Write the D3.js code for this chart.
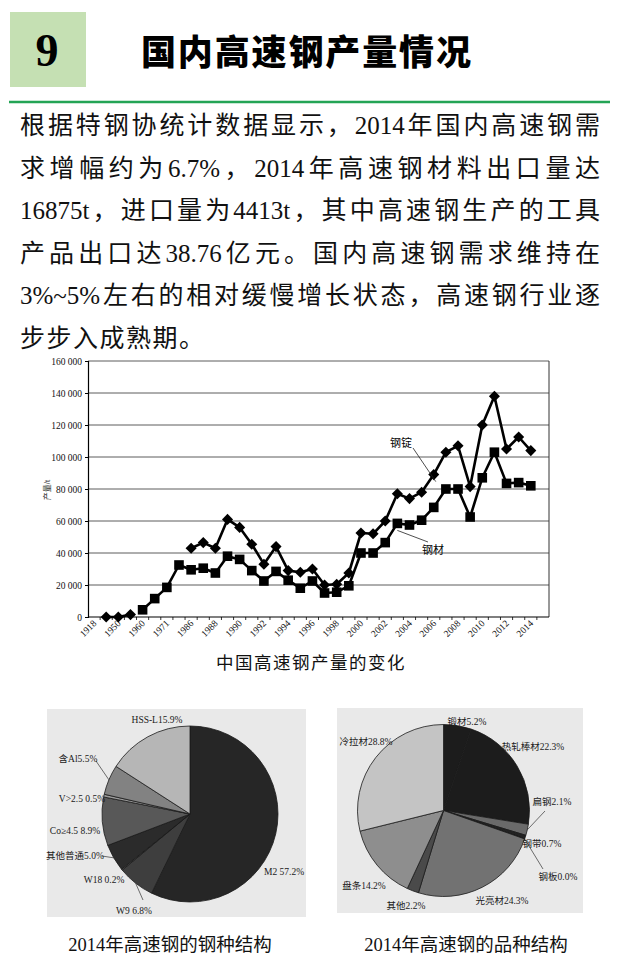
<!DOCTYPE html>
<html>
<head>
<meta charset="utf-8">
<script src="https://cdn.jsdelivr.net/npm/d3@7"></script>
<style>
  body { margin: 0; background: #fff; }
  svg { display: block; }
</style>
</head>
<body>
<div id="chart"></div>
<script>
//
// Data
//
const title = '国内高速钢产量情况'
const bodyLines = [
  '根据特钢协统计数据显示，2014年国内高速钢需',
  '求增幅约为6.7%，2014年高速钢材料出口量达',
  '16875t，进口量为4413t，其中高速钢生产的工具',
  '产品出口达38.76亿元。国内高速钢需求维持在',
  '3%~5%左右的相对缓慢增长状态，高速钢行业逐',
  '步步入成熟期。'
]

// x axis: 38 categories, a label on every second one
const tickLabels = ['1918', '1950', '1960', '1971', '1986', '1988', '1990', '1992', '1994',
  '1996', '1998', '2000', '2002', '2004', '2006', '2008', '2010', '2012', '2014']
const categoryCount = 38

// 钢锭 (ingot), t
const ingot = [null, 0, 0, 1500, null, null, null, null,
  43000, 46500, 43000, 61000, 56000, 45500, 33000, 44000, 29000, 28000, 30000, 20000,
  20500, 27500, 52500, 52000, 60000, 77000, 74000, 78000, 89000, 103000, 107000, 81500,
  120000, 138000, 105000, 112500, 104000]
// 钢材 (steel product), t
const steel = [null, null, null, null, 4500, 11500, 18500, 32500,
  29500, 30500, 27500, 38000, 36000, 29000, 22500, 28500, 23000, 18000, 22500, 15000,
  15500, 19500, 40000, 40000, 46500, 58500, 57500, 60500, 68500, 80000, 80000, 62500,
  87000, 103000, 83500, 84000, 82000]

const yTicks = [0, 20000, 40000, 60000, 80000, 100000, 120000, 140000, 160000]

// 2014年高速钢的钢种结构
const grades = ['M2', 'W9', 'W18', '其他普通', 'Co≥4.5', 'V>2.5', '含Al', 'HSS-L']
const gradeShare = [57.2, 6.8, 0.2, 5.0, 8.9, 0.5, 5.5, 15.9]
// 2014年高速钢的品种结构
const products = ['锻材', '热轧棒材', '扁钢', '钢带', '钢板', '光亮材', '其他', '盘条', '冷拉材']
const productShare = [5.2, 22.3, 2.1, 0.7, 0.0, 24.3, 2.2, 14.2, 28.8]

// styles
const gradeFill = ['#262626', '#3e3e3e', '#555555', '#2b2b2b', '#585858', '#9a9a9a', '#828282', '#b6b6b6']
const productFill = ['#1c1c1c', '#1c1c1c', '#6a6a6a', '#222222', '#222222', '#727272', '#4a4a4a', '#8e8e8e', '#c4c4c4']
// label centres (layout only)
const gradeLabelPos = [[284, 871], [134, 910], [104, 879], [75, 855], [75, 830], [82, 798], [78, 758], [157, 719]]
const gradeLeader = { 6: [96, 761], 3: [102, 856], 1: [143, 900] }
const productLabelPos = [[467, 721], [533, 746], [552, 801], [542, 843], [558, 876], [502, 900], [406, 905], [364, 885], [366, 741]]
const productLeader = { 2: [545, 811], 4: [543, 869] }

const width = 617
const height = 972
const serif = '"Liberation Serif", "Noto Sans CJK SC", serif'
const sans = '"Noto Sans CJK SC", sans-serif'

const svg = d3.select('#chart').append('svg')
  .attr('width', width)
  .attr('height', height)
  .attr('viewBox', [0, 0, width, height])

//
// Header
//
svg.append('rect').attr('x', 10).attr('y', 12).attr('width', 76).attr('height', 75).attr('fill', '#c5e0b3')
svg.append('text').attr('x', 47).attr('y', 66).attr('text-anchor', 'middle')
  .attr('font-family', serif).attr('font-weight', 700).attr('font-size', 46).text('9')
svg.append('text').attr('x', 141).attr('y', 65)
  .attr('font-family', sans).attr('font-weight', 900).attr('font-size', 35)
  .attr('textLength', 330).attr('lengthAdjust', 'spacing').text(title)
svg.append('line').attr('x1', 9).attr('x2', 610).attr('y1', 102).attr('y2', 102)
  .attr('stroke', '#23a455').attr('stroke-width', 2.5)

// Body text: justify by spreading the gaps between CJK characters,
// keeping runs of latin/digits tight like the typeset original.
const bodyG = svg.append('g')
  .attr('font-family', serif)
  .attr('font-size', 25)
  .attr('fill', '#111')
bodyLines.forEach((line, li) => {
  const tokens = line.match(/[A-Za-z0-9.%~]+|[^A-Za-z0-9.%~]/g)
  const t = bodyG.append('text').attr('y', 134 + li * 42.6)
  const spans = tokens.map(tok => t.append('tspan').text(tok))
  const widths = spans.map(s => s.node().getComputedTextLength())
  const total = d3.sum(widths)
  const justify = li < bodyLines.length - 1
  const gap = justify ? (580 - total) / (tokens.length - 1) : 1.5
  let xPos = 20
  spans.forEach((s, i) => {
    s.attr('x', xPos)
    xPos += widths[i] + gap
  })
})

//
// Line chart
//
const plot = { left: 88, right: 549, top: 361, bottom: 617 }
const x = d3.scaleBand().domain(d3.range(categoryCount)).range([plot.left, plot.right])
const cx = i => x(i) + x.bandwidth() / 2
const y = d3.scaleLinear().domain([0, 160000]).range([plot.bottom, plot.top])

const chart = svg.append('g')
chart.append('rect').attr('x', plot.left).attr('y', plot.top)
  .attr('width', plot.right - plot.left).attr('height', plot.bottom - plot.top).attr('fill', '#fff')

chart.append('g').selectAll('line').data(yTicks.slice(1)).join('line')
  .attr('x1', plot.left).attr('x2', plot.right)
  .attr('y1', d => y(d)).attr('y2', d => y(d))
  .attr('stroke', '#4a4a4a').attr('stroke-width', 0.9)
chart.append('line').attr('x1', plot.right).attr('x2', plot.right)
  .attr('y1', plot.top).attr('y2', plot.bottom).attr('stroke', '#333').attr('stroke-width', 1)

const yAxis = chart.append('g')
  .attr('transform', `translate(${plot.left},0)`)
  .call(d3.axisLeft(y).tickValues(yTicks).tickSize(3).tickFormat(d => d3.format(',')(d).replace(/,/g, ' ')))
yAxis.select('.domain').attr('stroke', '#000').attr('stroke-width', 1.2)
yAxis.selectAll('text').attr('font-family', serif).attr('font-size', 9.5).attr('fill', '#111')

// x axis with ticks between categories (Excel style)
chart.append('line').attr('x1', plot.left).attr('x2', plot.right)
  .attr('y1', plot.bottom).attr('y2', plot.bottom).attr('stroke', '#000').attr('stroke-width', 1.2)
chart.append('g').selectAll('line').data(d3.range(1, categoryCount)).join('line')
  .attr('x1', d => x(d)).attr('x2', d => x(d))
  .attr('y1', plot.bottom).attr('y2', plot.bottom + 3)
  .attr('stroke', '#000').attr('stroke-width', 0.8)
chart.append('g').selectAll('text').data(tickLabels).join('text')
  .attr('transform', (d, i) => `translate(${cx(i * 2) + 3},${plot.bottom + 7}) rotate(-45)`)
  .attr('text-anchor', 'end')
  .attr('font-family', serif).attr('font-size', 9.5).attr('fill', '#111')
  .text(d => d)

chart.append('text')
  .attr('transform', `translate(50,490) rotate(-90)`)
  .attr('text-anchor', 'middle')
  .attr('font-family', serif).attr('font-size', 8).attr('fill', '#222')
  .text('产量/t')

const line = d3.line()
  .defined(d => d.v !== null)
  .x(d => cx(d.i))
  .y(d => y(d.v))

const ingotPts = ingot.map((v, i) => ({ i, v }))
const steelPts = steel.map((v, i) => ({ i, v }))

chart.append('path').datum(steelPts).attr('d', line)
  .attr('fill', 'none').attr('stroke', '#000').attr('stroke-width', 2.6).attr('stroke-linejoin', 'round')
chart.append('path').datum(ingotPts).attr('d', line)
  .attr('fill', 'none').attr('stroke', '#000').attr('stroke-width', 2.6).attr('stroke-linejoin', 'round')

chart.append('g').selectAll('rect').data(steelPts.filter(d => d.v !== null)).join('rect')
  .attr('x', d => cx(d.i) - 4.8).attr('y', d => y(d.v) - 4.8)
  .attr('width', 9.6).attr('height', 9.6).attr('fill', '#000')
chart.append('g').selectAll('path').data(ingotPts.filter(d => d.v !== null)).join('path')
  .attr('transform', d => `translate(${cx(d.i)},${y(d.v)})`)
  .attr('d', d3.symbol(d3.symbolDiamond2, 78))
  .attr('fill', '#000')

// series annotations
const ingotAt = 28
const steelAt = 25
chart.append('line')
  .attr('x1', 413).attr('y1', 448)
  .attr('x2', cx(ingotAt) + 2).attr('y2', y(ingot[ingotAt]) + 7)
  .attr('stroke', '#222').attr('stroke-width', 0.8)
chart.append('text').attr('x', 390).attr('y', 447)
  .attr('font-family', serif).attr('font-size', 11).text('钢锭')
chart.append('line')
  .attr('x1', cx(steelAt)).attr('y1', y(steel[steelAt]) + 7)
  .attr('x2', 428).attr('y2', 542)
  .attr('stroke', '#222').attr('stroke-width', 0.8)
chart.append('text').attr('x', 422).attr('y', 554)
  .attr('font-family', serif).attr('font-size', 11).text('钢材')

svg.append('text').attr('x', 311).attr('y', 669).attr('text-anchor', 'middle')
  .attr('font-family', serif).attr('font-size', 17.5).attr('letter-spacing', 1.5).attr('fill', '#111')
  .text('中国高速钢产量的变化')

//
// Pie charts
//
function drawPie (opts) {
  const g = svg.append('g')
  g.append('rect').attr('x', opts.box[0]).attr('y', opts.box[1])
    .attr('width', opts.box[2]).attr('height', opts.box[3]).attr('fill', '#e9e9e9')
  const pie = d3.pie().sort(null).value(d => d)
  const arcs = pie(opts.values)
  const arc = d3.arc().innerRadius(0).outerRadius(opts.r)
  const c = g.append('g').attr('transform', `translate(${opts.cx},${opts.cy})`)
  c.selectAll('path').data(arcs).join('path')
    .attr('d', arc)
    .attr('fill', (d, i) => opts.fills[i])
    .attr('stroke', '#1a1a1a').attr('stroke-width', 0.8).attr('stroke-linejoin', 'round')

  // leaders from the slice's mid angle on the rim
  Object.entries(opts.leaders).forEach(([k, p]) => {
    const a = arcs[k]
    const mid = (a.startAngle + a.endAngle) / 2
    g.append('line')
      .attr('x1', opts.cx + Math.sin(mid) * opts.r).attr('y1', opts.cy - Math.cos(mid) * opts.r)
      .attr('x2', p[0]).attr('y2', p[1])
      .attr('stroke', '#333').attr('stroke-width', 0.7)
  })

  g.selectAll('text.lbl').data(opts.names).join('text')
    .attr('class', 'lbl')
    .attr('x', (d, i) => opts.labelPos[i][0])
    .attr('y', (d, i) => opts.labelPos[i][1] + 3.5)
    .attr('text-anchor', 'middle')
    .attr('font-family', serif).attr('font-size', 9.5).attr('fill', '#1a1a1a')
    .text((d, i) => d + (/\d$/.test(d) ? ' ' : '') + d3.format('.1f')(opts.values[i]) + '%')

  svg.append('text').attr('x', opts.captionX).attr('y', 951).attr('text-anchor', 'middle')
    .attr('font-family', serif).attr('font-size', 18.5).attr('fill', '#111')
    .text(opts.caption)
}

drawPie({
  box: [47, 709, 259, 208],
  cx: 190, cy: 814, r: 88,
  values: gradeShare, names: grades, fills: gradeFill,
  labelPos: gradeLabelPos, leaders: gradeLeader,
  caption: '2014年高速钢的钢种结构', captionX: 170
})
drawPie({
  box: [337, 708, 246, 205],
  cx: 443.5, cy: 810.5, r: 86,
  values: productShare, names: products, fills: productFill,
  labelPos: productLabelPos, leaders: productLeader,
  caption: '2014年高速钢的品种结构', captionX: 466
})
</script>
</body>
</html>
